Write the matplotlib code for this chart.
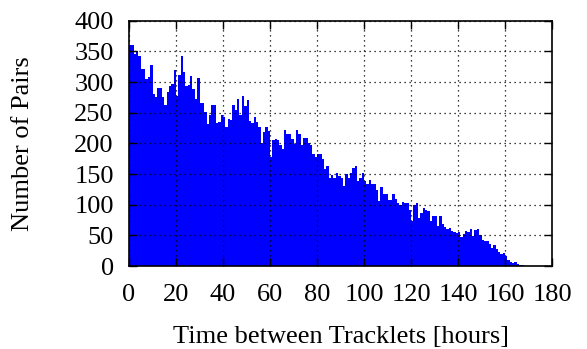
import matplotlib.pyplot as plt
import numpy as np

# pair counts per 1-hour bin of tracklet separation
hours = np.arange(0, 170)
pairs = [
    360, 360, 346, 351, 343, 321, 321, 305, 309, 327,
    280, 276, 290, 290, 275, 262, 284, 294, 297, 319,
    278, 312, 342, 316, 294, 295, 310, 289, 273, 306,
    265, 265, 251, 232, 247, 262, 262, 234, 235, 246,
    243, 227, 240, 238, 262, 254, 272, 246, 277, 261,
    270, 237, 233, 243, 235, 227, 200, 218, 227, 220,
    178, 206, 207, 205, 198, 190, 221, 216, 216, 207,
    199, 222, 216, 197, 209, 209, 201, 198, 182, 177,
    182, 182, 174, 158, 163, 144, 149, 144, 152, 147,
    144, 130, 150, 144, 152, 159, 163, 138, 144, 152,
    138, 133, 140, 133, 133, 124, 106, 129, 118, 117,
    107, 107, 118, 109, 103, 99, 105, 102, 102, 92,
    73, 100, 103, 78, 87, 95, 91, 90, 74, 82,
    82, 65, 82, 68, 63, 60, 62, 57, 56, 54,
    56, 47, 53, 57, 56, 60, 49, 58, 60, 50,
    42, 40, 41, 36, 30, 34, 27, 23, 19, 21,
    17, 10, 6, 5, 6, 3, 1, 1, 0, 0,
]

xticks = np.arange(0, 181, 20)
yticks = np.arange(0, 401, 50)

plt.rcParams['font.family'] = ['Liberation Serif', 'DejaVu Serif']

fig = plt.figure(figsize=(5.87, 3.49), dpi=100)
ax = fig.add_axes([0.2198, 0.2378, 0.7206, 0.7029])

ax.bar(hours, pairs, width=1.0, align='edge', color='#0000ff',
       edgecolor='none', linewidth=0)

ax.set_xlim(0, 180)
ax.set_ylim(0, 400)
ax.set_xticks(xticks)
ax.set_yticks(yticks)

ax.set_axisbelow(False)
ax.grid(True, color='black', linestyle=(0, (1, 3)), linewidth=0.9)

ax.tick_params(direction='in', length=6, width=1, top=True, right=True,
               labelsize=19)
ax.tick_params(axis='x', pad=13)
ax.tick_params(axis='y', pad=11)
for s in ax.spines.values():
    s.set_linewidth(1.2)

ax.set_xlabel('Time between Tracklets [hours]', fontsize=19, labelpad=14)
ax.set_ylabel('Number of Pairs', fontsize=19, labelpad=29)

plt.savefig('out.png', dpi=100)
